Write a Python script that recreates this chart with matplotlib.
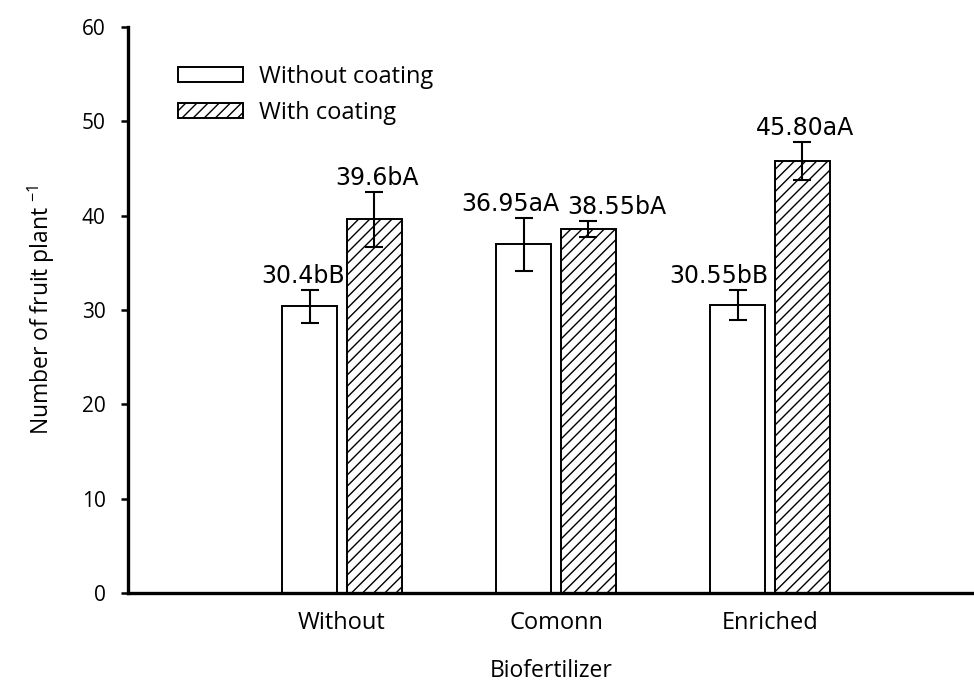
import numpy as np
import matplotlib
matplotlib.use('Agg')
import matplotlib.pyplot as plt

plt.rcParams['font.family'] = ['Open Sans', 'DejaVu Sans']
plt.rcParams['mathtext.default'] = 'regular'
plt.rcParams['hatch.linewidth'] = 1.0

# biofertilizer groups and the two coating treatments
categories = ['Without', 'Comonn', 'Enriched']
without_coating = [30.4, 36.95, 30.55]
with_coating = [39.6, 38.55, 45.80]
err_without = [1.75, 2.85, 1.6]
err_with = [2.9, 0.85, 2.0]
labels_without = ['30.4bB', '36.95aA', '30.55bB']
labels_with = ['39.6bA', '38.55bA', '45.80aA']

fig = plt.figure(figsize=(9.74, 6.84), dpi=100)
ax = fig.add_axes([128 / 974, 91 / 684, (974 - 128) / 974, 566 / 684])

x = np.arange(1, len(categories) + 1)
w = 0.257
off = 0.15

ax.bar(x - off, without_coating, w, color='white', edgecolor='black', linewidth=1.4,
       label='Without coating', zorder=2)
ax.bar(x + off, with_coating, w, color='white', edgecolor='black', linewidth=1.4,
       hatch='///', label='With coating', zorder=2)
ax.errorbar(x - off, without_coating, yerr=err_without, fmt='none', ecolor='black',
            elinewidth=1.5, capsize=6.5, capthick=1.5, zorder=3)
ax.errorbar(x + off, with_coating, yerr=err_with, fmt='none', ecolor='black',
            elinewidth=1.5, capsize=6.5, capthick=1.5, zorder=3)

# letter labels above the error bars, nudged sideways so they don't collide
shift_without = [-5, -10, -14]
shift_with = [2, 21, 2]
for i in range(len(categories)):
    ax.annotate(labels_without[i], (x[i] - off, without_coating[i] + err_without[i]),
                xytext=(shift_without[i], 5), textcoords='offset points',
                ha='center', va='baseline', fontsize=17, family='DejaVu Sans')
    ax.annotate(labels_with[i], (x[i] + off, with_coating[i] + err_with[i]),
                xytext=(shift_with[i], 5), textcoords='offset points',
                ha='center', va='baseline', fontsize=17, family='DejaVu Sans')

ax.set_xlim(0, (974 - 128) / 214)
ax.set_ylim(0, 60)
ax.set_yticks(np.arange(0, 61, 10))
ax.set_xticks(x)
ax.set_xticklabels(categories, fontsize=17)
ax.tick_params(axis='y', labelsize=15, length=5, width=1.8, pad=11, direction='out')
ax.tick_params(axis='x', length=0, pad=13)

for s in ['top', 'right']:
    ax.spines[s].set_visible(False)
for s in ['left', 'bottom']:
    ax.spines[s].set_linewidth(2.4)

ax.set_ylabel(r'Number of fruit plant $^{-1}$', fontsize=16.5, labelpad=18)
ax.set_xlabel('Biofertilizer', fontsize=16.5, labelpad=17)

ax.legend(loc='upper left', bbox_to_anchor=(178 / 974, 0.905), bbox_transform=fig.transFigure,
          frameon=False, fontsize=17, borderpad=0, borderaxespad=0,
          handlelength=2.75, handleheight=0.64, handletextpad=0.68, labelspacing=0.5)

plt.savefig('out.png', dpi=100)
